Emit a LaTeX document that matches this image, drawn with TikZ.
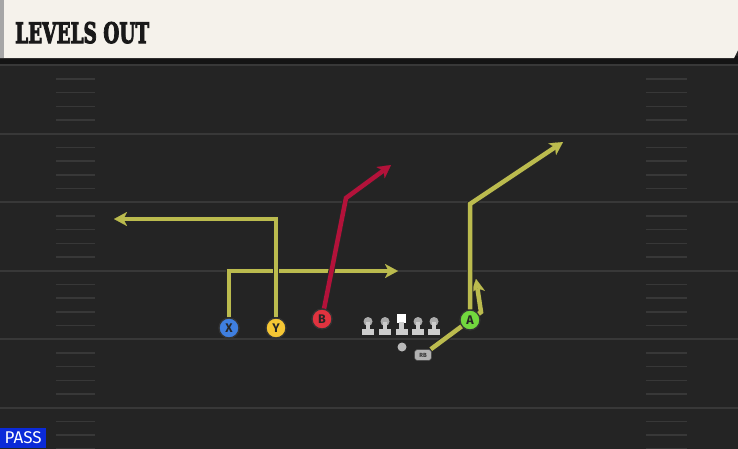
\documentclass[tikz,border=0pt]{standalone}
\usepackage{fontspec}
\usepackage{graphicx}
\setsansfont{Fira Sans}
\newfontfamily\titlefont{DejaVu Serif}[FakeBold=4]
\usetikzlibrary{arrows.meta}

\definecolor{fieldgray}{HTML}{242424}
\definecolor{linegray}{HTML}{383838}
\definecolor{cream}{HTML}{F5F2EB}
\definecolor{routeyellow}{HTML}{BBBB4E}
\definecolor{routered}{HTML}{B3123A}
\definecolor{xblue}{HTML}{3F7FE0}
\definecolor{yyellow}{HTML}{F5C634}
\definecolor{bred}{HTML}{E0333F}
\definecolor{agreen}{HTML}{72D83E}
\definecolor{passblue}{HTML}{0B2AD8}
\definecolor{olgray}{HTML}{CDCDCD}

\begin{document}
\begin{tikzpicture}[x=1pt,y=-1pt,
    % styles
    yard line/.style={linegray,line width=2pt},
    hash line/.style={linegray,line width=1.5pt},
    route/.style={line width=4.5pt,
      -{Stealth[length=13pt,width=14pt,inset=3.5pt,line width=0.1pt]},
      preaction={draw=black!85,line width=6.5pt,
        -{Stealth[length=13pt,width=14pt,inset=3.5pt,line width=2pt]}}},
    player/.style={circle,draw=black!80,line width=1.3pt,minimum size=20pt,
      inner sep=0pt,font=\sffamily\bfseries\fontsize{12.5}{12.5}\selectfont,text=black!85},
    lineman/.style={fill=olgray}]

  \useasboundingbox (0,0) rectangle (738,448);

  % field
  \fill[fieldgray] (-5,-5) rectangle (743,453);
  \foreach \k in {0,...,5} {
    \pgfmathsetmacro\yy{65.3+68.5*\k}
    \draw[yard line] (0,\yy) -- (738,\yy);
  }
  \foreach \k in {0,...,5}
    \foreach \j in {1,...,4} {
      \pgfmathsetmacro\hy{65.3+68.5*\k+13.7*\j}
      \draw[hash line] (56,\hy) -- (95,\hy);
      \draw[hash line] (646,\hy) -- (687,\hy);
    }

  % title bar
  \fill[black!92] (0,56) rectangle (738,64);
  \fill[cream] (0,0) -- (738,0) -- (738,50) -- (734,58) -- (0,58) -- cycle;
  \fill[gray!70] (0,0) rectangle (4,58);
  \node[anchor=base west,inner sep=0pt,text=black!90] (title) at (15,43)
    {\resizebox{134pt}{21pt}{\titlefont\bfseries LEVELS OUT}};

  % play type
  \node[fill=passblue,text=white,anchor=south west,inner sep=0pt,
    minimum width=46pt,minimum height=20pt,
    font=\sffamily\fontsize{17}{17}\selectfont] (pass) at (0,448) {PASS};

  % line
  \foreach \x in {368,385,418,434} {
    \fill[gray!65] (\x,321.5) circle (4.5);
    \fill[lineman] (\x-2.2,322) rectangle (\x+2.2,330);
    \fill[lineman] (\x-6,329) rectangle (\x+6,334.5);
  }
  \fill[white] (397,314) rectangle (406,323);
  \fill[lineman] (399.3,322) rectangle (403.7,330);
  \fill[lineman] (395.5,329) rectangle (407.5,334.5);
  \fill[gray!55] (402,347) circle (4.5);

  % route end points
  \coordinate (xend) at (398,271);
  \coordinate (yend) at (114,219);
  \coordinate (bcut) at (346,198);
  \coordinate (bend) at (391,165);
  \coordinate (rbcut) at (481,312);
  \coordinate (rbend) at (476,279);
  \coordinate (acut) at (470,204);
  \coordinate (aend) at (563,142);

  % running back
  \node[rounded corners=3pt,fill=gray!60!white,draw=black!70,line width=0.6pt,
    minimum width=17pt,minimum height=11pt,inner sep=0pt,
    font=\sffamily\bfseries\fontsize{6}{6}\selectfont,text=black!80] (RB) at (423,355) {RB};
  \draw[route,routeyellow] (RB) -- (rbcut) -- (rbend);

  % receivers
  \node[player,fill=xblue] (X) at (229,328) {X};
  \node[player,fill=yyellow] (Y) at (276,328) {Y};
  \node[player,fill=bred] (B) at (322,319) {B};
  \node[player,fill=agreen] (A) at (470,320) {A};

  % routes
  \draw[route,routeyellow] (X) |- (xend);
  \draw[route,routeyellow] (Y) |- (yend);
  \draw[route,routered] (B) -- (bcut) -- (bend);
  \draw[route,routeyellow] (A) -- (acut) -- (aend);
\end{tikzpicture}
\end{document}
